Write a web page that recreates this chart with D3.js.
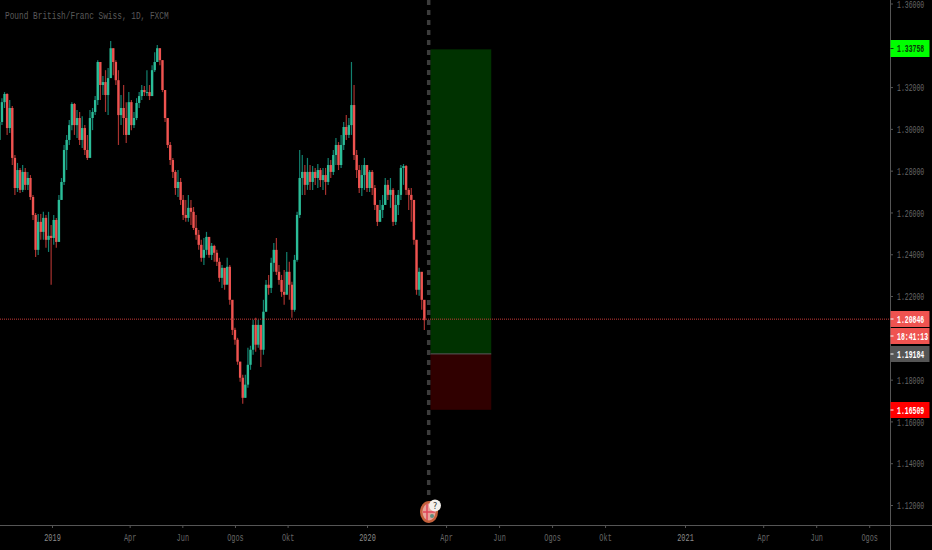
<!DOCTYPE html>
<html lang="en">
<head>
    <title>Pound British/Franc Swiss, 1D, FXCM</title>
    <script type="text/javascript" src="https://d3js.org/d3.v7.min.js"></script>
    <style>
        html, body { margin: 0; padding: 0; background: #000; overflow: hidden; }
        svg { display: block; }
    </style>
</head>
<body>
    <div id="chart"></div>
    <script>
        var firstBar = new Date(2018, 10, 1);
        var barStepDays = 3;

        var opens = [1.2947,1.3033,1.3128,1.3167,1.3004,1.3100,1.2861,1.2717,1.2803,1.2708,1.2794,1.2732,1.2765,1.2674,1.2588,1.2421,1.2555,1.2507,1.2574,1.2469,1.2488,1.2478,1.2564,1.2459,1.2660,1.2746,1.2899,1.2947,1.3018,1.3119,1.3018,1.3052,1.2947,1.3004,1.2899,1.2861,1.3052,1.3081,1.3138,1.3320,1.3210,1.3224,1.3162,1.3243,1.3386,1.3320,1.3233,1.3066,1.3100,1.3052,1.2971,1.3128,1.3018,1.3052,1.3124,1.3157,1.3186,1.3176,1.3176,1.3157,1.3281,1.3320,1.3386,1.3329,1.3186,1.3052,1.2923,1.2851,1.2794,1.2717,1.2746,1.2660,1.2588,1.2574,1.2622,1.2603,1.2526,1.2493,1.2445,1.2383,1.2421,1.2483,1.2397,1.2440,1.2407,1.2364,1.2287,1.2335,1.2254,1.2340,1.2182,1.2038,1.1991,1.1886,1.1809,1.1713,1.1776,1.1871,1.1943,1.2062,1.1967,1.2062,1.1943,1.2125,1.2254,1.2239,1.2359,1.2421,1.2316,1.2277,1.2220,1.2206,1.2316,1.2254,1.2134,1.2373,1.2588,1.2765,1.2794,1.2732,1.2794,1.2746,1.2794,1.2765,1.2803,1.2755,1.2779,1.2746,1.2827,1.2794,1.2875,1.2923,1.2827,1.2923,1.3009,1.2971,1.3018,1.3114,1.2875,1.2803,1.2717,1.2779,1.2827,1.2717,1.2794,1.2717,1.2636,1.2555,1.2612,1.2636,1.2732,1.2684,1.2708,1.2555,1.2636,1.2684,1.2813,1.2822,1.2708,1.2684,1.2660,1.2469,1.2230,1.2316,1.2182];
        var closes = [1.3033,1.3128,1.3167,1.3004,1.3100,1.2861,1.2717,1.2803,1.2708,1.2794,1.2732,1.2765,1.2674,1.2588,1.2421,1.2555,1.2507,1.2574,1.2469,1.2488,1.2478,1.2564,1.2459,1.2660,1.2746,1.2899,1.2947,1.3018,1.3119,1.3018,1.3052,1.2947,1.3004,1.2899,1.2861,1.3052,1.3081,1.3138,1.3320,1.3210,1.3224,1.3162,1.3243,1.3386,1.3320,1.3233,1.3066,1.3100,1.3052,1.2971,1.3128,1.3018,1.3052,1.3124,1.3157,1.3186,1.3176,1.3176,1.3157,1.3281,1.3320,1.3386,1.3329,1.3186,1.3052,1.2923,1.2851,1.2794,1.2717,1.2746,1.2660,1.2588,1.2574,1.2622,1.2603,1.2526,1.2493,1.2445,1.2383,1.2421,1.2483,1.2397,1.2440,1.2407,1.2364,1.2287,1.2335,1.2254,1.2340,1.2182,1.2038,1.1991,1.1886,1.1809,1.1713,1.1776,1.1871,1.1943,1.2062,1.1967,1.2062,1.1943,1.2125,1.2254,1.2239,1.2359,1.2421,1.2316,1.2277,1.2220,1.2206,1.2316,1.2254,1.2134,1.2373,1.2588,1.2765,1.2794,1.2732,1.2794,1.2746,1.2794,1.2765,1.2803,1.2755,1.2779,1.2746,1.2827,1.2794,1.2875,1.2923,1.2827,1.2923,1.3009,1.2971,1.3018,1.3114,1.2875,1.2803,1.2717,1.2779,1.2827,1.2717,1.2794,1.2717,1.2636,1.2555,1.2612,1.2636,1.2732,1.2684,1.2708,1.2555,1.2636,1.2684,1.2813,1.2822,1.2708,1.2684,1.2660,1.2469,1.2230,1.2316,1.2182,1.20846];
        var highs = [1.3090,1.3147,1.3176,1.3171,1.3138,1.3109,1.2875,1.2837,1.2813,1.2827,1.2813,1.2794,1.2779,1.2684,1.2598,1.2593,1.2593,1.2603,1.2588,1.2603,1.2540,1.2588,1.2574,1.2684,1.2765,1.2923,1.2971,1.3042,1.3128,1.3124,1.3090,1.3081,1.3061,1.3018,1.2971,1.3090,1.3100,1.3157,1.3329,1.3320,1.3253,1.3281,1.3291,1.3420,1.3386,1.3329,1.3281,1.3162,1.3210,1.3128,1.3176,1.3138,1.3081,1.3147,1.3176,1.3210,1.3205,1.3281,1.3210,1.3305,1.3367,1.3401,1.3386,1.3329,1.3186,1.3052,1.2937,1.2861,1.2803,1.2803,1.2765,1.2684,1.2660,1.2684,1.2660,1.2626,1.2588,1.2516,1.2469,1.2478,1.2507,1.2478,1.2454,1.2445,1.2421,1.2383,1.2349,1.2316,1.2383,1.2349,1.2158,1.2048,1.2000,1.1886,1.1823,1.1823,1.1952,1.1962,1.2086,1.2096,1.2086,1.2062,1.2182,1.2277,1.2301,1.2383,1.2454,1.2478,1.2349,1.2301,1.2325,1.2411,1.2364,1.2268,1.2397,1.2603,1.2899,1.2875,1.2827,1.2861,1.2827,1.2822,1.2813,1.2832,1.2813,1.2813,1.2813,1.2861,1.2851,1.2899,1.2956,1.2937,1.2971,1.3033,1.3066,1.3052,1.3320,1.3210,1.2899,1.2827,1.2827,1.2861,1.2827,1.2803,1.2803,1.2732,1.2636,1.2660,1.2684,1.2765,1.2755,1.2765,1.2717,1.2684,1.2708,1.2827,1.2832,1.2827,1.2717,1.2717,1.2650,1.2469,1.2335,1.2254,1.2158];
        var lows = [1.2875,1.3018,1.3100,1.2971,1.2980,1.2827,1.2684,1.2698,1.2693,1.2698,1.2708,1.2708,1.2660,1.2564,1.2387,1.2397,1.2469,1.2469,1.2431,1.2411,1.2254,1.2445,1.2431,1.2550,1.2660,1.2732,1.2803,1.2923,1.2994,1.2971,1.2956,1.2923,1.2908,1.2875,1.2851,1.2947,1.2994,1.3066,1.3114,1.3138,1.3162,1.3081,1.3066,1.3243,1.3257,1.3210,1.2923,1.3018,1.2971,1.2932,1.3042,1.2994,1.3004,1.3042,1.3100,1.3138,1.3157,1.3157,1.3138,1.3176,1.3272,1.3320,1.3305,1.3176,1.3033,1.2908,1.2827,1.2765,1.2684,1.2674,1.2636,1.2564,1.2555,1.2555,1.2540,1.2516,1.2469,1.2421,1.2364,1.2349,1.2397,1.2383,1.2373,1.2364,1.2344,1.2268,1.2239,1.2230,1.2268,1.2158,1.2014,1.1967,1.1871,1.1790,1.1685,1.1713,1.1761,1.1847,1.1919,1.1933,1.1952,1.1861,1.1919,1.2125,1.2206,1.2215,1.2316,1.2301,1.2254,1.2196,1.2158,1.2254,1.2182,1.2096,1.2125,1.2364,1.2574,1.2684,1.2684,1.2708,1.2708,1.2708,1.2732,1.2717,1.2722,1.2708,1.2684,1.2732,1.2765,1.2779,1.2827,1.2803,1.2813,1.2899,1.2947,1.2956,1.2971,1.2851,1.2765,1.2693,1.2679,1.2708,1.2698,1.2698,1.2684,1.2612,1.2535,1.2564,1.2574,1.2636,1.2660,1.2622,1.2535,1.2540,1.2588,1.2660,1.2732,1.2684,1.2612,1.2555,1.2445,1.2206,1.2201,1.2134,1.2038];

        var priceTicks = [1.36, 1.32, 1.30, 1.28, 1.26, 1.24, 1.22, 1.18, 1.16, 1.14, 1.12]; // 1.34 and 1.20 sit behind flags
        var timeTicks = [new Date(2019,0,1), new Date(2019,3,1), new Date(2019,5,1), new Date(2019,7,1), new Date(2019,9,1), new Date(2020,0,1), new Date(2020,3,1), new Date(2020,5,1), new Date(2020,7,1), new Date(2020,9,1), new Date(2021,0,1), new Date(2021,3,1), new Date(2021,5,1), new Date(2021,7,1)];
        var timeLabels = ["2019", "Apr", "Jun", "Ogos", "Okt", "2020", "Apr", "Jun", "Ogos", "Okt", "2021", "Apr", "Jun", "Ogos"];

        var lastPrice = 1.20846;
        var entryPrice = 1.19184;
        var targetPrice = 1.33758;
        var stopPrice = 1.16509;
        var positionStart = new Date(2020, 2, 14);
        var positionEnd = new Date(2020, 4, 23);
        var markerDate = new Date(2020, 2, 12);

        var width = 932, height = 550;
        var plotRight = 890, plotBottom = 525;
        var levelOffset = -1; // price levels sit a pixel above the tick grid in the screenshot
        var monoFont = "'Liberation Mono', 'DejaVu Sans Mono', monospace";
        var narrow = 0.565; // labels are a squeezed monospace

        var svg = d3.select("#chart").append("svg")
            .attr("width", width)
            .attr("height", height)
            .style("background", "#000");

        var xScale = d3.scaleTime()
            .domain([new Date(2019,0,1), new Date(2020,0,1), new Date(2021,0,1)])
            .range([52, 367, 685]);
        var yScale = d3.scaleLinear()
            .domain([1.12, 1.36])
            .range([505, 3.5]);
        var levelY = function(p) { return yScale(p) + levelOffset; };

        // long position box
        svg.append("rect")
            .attr("x", xScale(positionStart))
            .attr("width", xScale(positionEnd) - xScale(positionStart))
            .attr("y", levelY(targetPrice))
            .attr("height", levelY(entryPrice) - levelY(targetPrice))
            .attr("fill", "#003200");
        svg.append("rect")
            .attr("x", xScale(positionStart))
            .attr("width", xScale(positionEnd) - xScale(positionStart))
            .attr("y", levelY(entryPrice))
            .attr("height", levelY(stopPrice) - levelY(entryPrice))
            .attr("fill", "#300000");
        svg.append("line")
            .attr("x1", xScale(positionStart))
            .attr("x2", xScale(positionEnd))
            .attr("y1", levelY(entryPrice))
            .attr("y2", levelY(entryPrice))
            .attr("stroke", "#5a5a5a");

        // dashed vertical marker
        svg.append("line")
            .attr("x1", xScale(markerDate))
            .attr("x2", xScale(markerDate))
            .attr("y1", 0)
            .attr("y2", 497)
            .attr("stroke", "#3c3c3c")
            .attr("stroke-width", 3.5)
            .attr("stroke-dasharray", "5 5");

        // candles
        var bars = d3.range(closes.length);
        var barX = function(i) { return xScale(d3.timeDay.offset(firstBar, i * barStepDays)); };
        var isUp = function(i) { return closes[i] >= opens[i]; };

        svg.append("g").selectAll("line")
            .data(bars)
            .enter().append("line")
            .attr("x1", barX)
            .attr("x2", barX)
            .attr("y1", function(i) { return yScale(highs[i]); })
            .attr("y2", function(i) { return yScale(lows[i]); })
            .attr("stroke", function(i) { return isUp(i) ? "#12806f" : "#a8322f"; })
            .attr("stroke-width", 1.2);

        svg.append("g").selectAll("rect")
            .data(bars)
            .enter().append("rect")
            .attr("x", function(i) { return barX(i) - 1.2; })
            .attr("width", 2.4)
            .attr("y", function(i) { return yScale(Math.max(opens[i], closes[i])); })
            .attr("height", function(i) { return Math.max(1, Math.abs(yScale(opens[i]) - yScale(closes[i]))); })
            .attr("fill", function(i) { return isUp(i) ? "#2bbd98" : "#ef5350"; });

        // last price line
        svg.append("line")
            .attr("x1", 0)
            .attr("x2", plotRight)
            .attr("y1", levelY(lastPrice))
            .attr("y2", levelY(lastPrice))
            .attr("stroke", "#c93a38")
            .attr("stroke-dasharray", "1 1");

        // price axis
        var yAxis = svg.append("g")
            .attr("transform", "translate(" + plotRight + ",0)")
            .call(d3.axisRight(yScale).tickValues(priceTicks).tickSize(3).tickPadding(4).tickFormat(d3.format(".5f")));
        yAxis.select(".domain").attr("stroke", "#555").attr("d", "M0.5,0V550");
        yAxis.selectAll(".tick line").attr("stroke", "#555");
        yAxis.selectAll("text")
            .attr("fill", "#666")
            .attr("x", 7 / narrow)
            .attr("transform", "scale(" + narrow + ",1)")
            .style("font-family", monoFont)
            .style("font-size", "11.5px");

        // time axis
        var xAxis = svg.append("g")
            .attr("transform", "translate(0," + plotBottom + ")")
            .call(d3.axisBottom(xScale).tickValues(timeTicks).tickSize(3).tickPadding(5).tickFormat(function(d, i) { return timeLabels[i]; }));
        xAxis.select(".domain").attr("stroke", "#555").attr("d", "M0,0.5H" + width);
        xAxis.selectAll(".tick line").attr("stroke", "#555");
        xAxis.selectAll("text")
            .attr("fill", function(d, i) { return +timeLabels[i] ? "#8a8a8a" : "#666"; })
            .attr("transform", "scale(0.6,1)")
            .style("font-family", monoFont)
            .style("font-size", "11.5px");

        // price flags on the axis
        function drawFlag(top, bottom, fill, textColor, label) {
            var mid = (top + bottom) / 2;
            svg.append("rect")
                .attr("x", plotRight + 0.5)
                .attr("y", top)
                .attr("width", 39)
                .attr("height", bottom - top)
                .attr("fill", fill);
            svg.append("line")
                .attr("x1", plotRight + 0.5)
                .attr("x2", plotRight + 3.5)
                .attr("y1", mid)
                .attr("y2", mid)
                .attr("stroke", textColor);
            svg.append("text")
                .attr("transform", "translate(" + (plotRight + 7) + "," + (mid + 3.8) + ") scale(" + narrow + ",1)")
                .attr("fill", textColor)
                .style("font-family", monoFont)
                .style("font-size", "11.5px")
                .style("font-weight", "bold")
                .text(label);
        }
        drawFlag(40, 57, "#00ff00", "#0a3a0a", d3.format(".5f")(targetPrice));
        drawFlag(311, 327, "#ef5350", "#fff", d3.format(".5f")(lastPrice));
        drawFlag(328, 344, "#ef5350", "#fff", "18:41:13");
        drawFlag(346, 362, "#555", "#fff", d3.format(".5f")(entryPrice));
        drawFlag(402, 418, "#ff0000", "#fff", d3.format(".5f")(stopPrice));

        // title
        svg.append("text")
            .attr("transform", "translate(5,19) scale(0.71,1)")
            .attr("fill", "#5a5a5a")
            .style("font-family", monoFont)
            .style("font-size", "11px")
            .text("Pound British/Franc Swiss, 1D, FXCM");

        // author badge under the marker
        var badge = svg.append("g").attr("transform", "translate(429,512)");
        badge.append("ellipse").attr("rx", 9).attr("ry", 11).attr("fill", "#c4603c");
        badge.append("ellipse").attr("rx", 6.5).attr("ry", 8.5).attr("fill", "#e8a39a");
        badge.append("path").attr("d", "M-6,0H6M-2,-8V8").attr("stroke", "#e0455a").attr("stroke-width", 1.5);
        badge.append("circle").attr("cx", 3).attr("cy", 4).attr("r", 2).attr("fill", "#5f8f80");
        badge.append("circle").attr("cx", 6).attr("cy", -6.5).attr("r", 6).attr("fill", "#f4f0ec");
        badge.append("text")
            .attr("x", 6)
            .attr("y", -3.5)
            .attr("text-anchor", "middle")
            .attr("fill", "#333")
            .style("font-family", "'DejaVu Sans', sans-serif")
            .style("font-size", "8px")
            .text("?");
    </script>
</body>
</html>
